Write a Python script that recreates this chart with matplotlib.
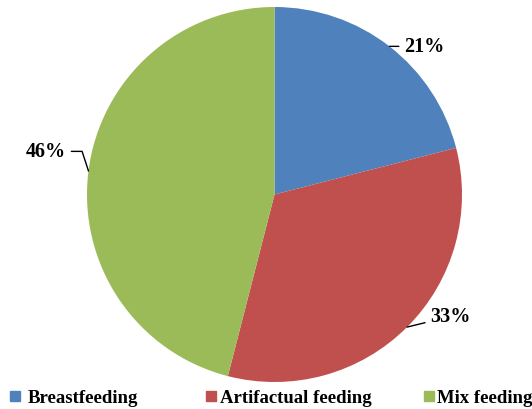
import matplotlib
matplotlib.use("Agg")
import matplotlib.pyplot as plt
from matplotlib.patches import Rectangle
import numpy as np

categories = ["Breastfeeding", "Artifactual feeding", "Mix feeding"]
values = [21, 33, 46]
labels = ["21%", "33%", "46%"]
colors = ["#4F81BD", "#C0504D", "#9BBB59"]

# label text offsets (relative to pie centre, unit = radius)
label_pos = [(0.80, 0.79), (0.94, -0.65), (-1.22, 0.23)]
conn = ["arc3,rad=0", "arc3,rad=0", "angle,angleA=0,angleB=-72,rad=0"]

fig = plt.figure(figsize=(5.32, 4.10), dpi=100)
ax = fig.add_axes([87 / 532, 27 / 410, 375 / 532, 375 / 410])
wedges, _ = ax.pie(values, colors=colors, startangle=90, counterclock=False,
                   radius=1.0, wedgeprops=dict(linewidth=0))
ax.set_xlim(-1, 1)
ax.set_ylim(-1, 1)
ax.set_aspect("equal")
ax.axis("off")

font = dict(family="Liberation Serif", weight="bold", size=14.5)
for w, lab, pos, cs in zip(wedges, labels, label_pos, conn):
    mid = np.deg2rad((w.theta1 + w.theta2) / 2)
    xy = (np.cos(mid), np.sin(mid))
    ax.annotate(lab, xy=xy, xytext=pos, ha="center", va="center",
                color="black", annotation_clip=False,
                arrowprops=dict(arrowstyle="-", color="black", lw=1.0,
                                connectionstyle=cs, shrinkA=2, shrinkB=0),
                **font)

# legend
leg_font = dict(family="Liberation Serif", weight="bold", size=13.5)
square_x = [10, 206, 424]
text_x = [28, 220, 437]
for sx, tx, cat, c in zip(square_x, text_x, categories, colors):
    fig.patches.append(Rectangle((sx / 532, 8 / 410), 10 / 532, 10 / 410,
                                 transform=fig.transFigure, color=c))
    fig.text(tx / 532, 7 / 410, cat, ha="left", va="baseline", **leg_font)

fig.savefig("out.png", dpi=100)
